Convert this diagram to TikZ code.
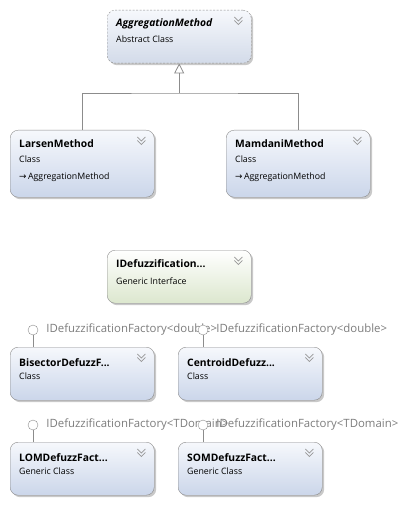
\documentclass[tikz,border=0pt]{standalone}
\usepackage{fontspec}
\setmainfont{Open Sans}
\newfontfamily\arrowfont{DejaVu Sans}
\usepackage{tikz}
\usetikzlibrary{positioning}
\usetikzlibrary{arrows.meta}
\usetikzlibrary{shadows}
\definecolor{umlline}{HTML}{8C8C8C}
\definecolor{classtop}{HTML}{F6F8FC}
\definecolor{classbot}{HTML}{CBD6EA}
\definecolor{abstbot}{HTML}{D3DBE9}
\definecolor{ifacebot}{HTML}{DCE7CE}
\definecolor{labelgray}{HTML}{7C7C7C}
\tikzset{>=latex}
\tikzset{
  umlbox/.style = {rectangle, draw=umlline, rounded corners=8pt, anchor=north west,
    minimum width=144pt, minimum height=53pt, inner sep=0pt,
    top color=classtop, bottom color=classbot,
    drop shadow={shadow xshift=2pt, shadow yshift=-2pt, opacity=0.3, fill=black!70}},
  abstbox/.style = {umlbox, dash pattern=on 2pt off 1.5pt, bottom color=abstbot},
  ifacebox/.style = {umlbox, top color=white, bottom color=ifacebot},
  title/.style = {anchor=base west, inner sep=0pt, font=\fontsize{10.3}{12}\selectfont\bfseries},
  sub/.style = {anchor=base west, inner sep=0pt, font=\fontsize{8.8}{10}\selectfont},
  lolly/.style = {circle, draw=umlline, fill=white, minimum size=10pt, inner sep=0pt},
  ifacelabel/.style = {anchor=west, inner sep=0pt, text=labelgray, font=\fontsize{11.4}{13}\selectfont},
  link/.style = {draw=umlline, line width=0.8pt},
  chev/.style = {draw=umlline!90, line width=0.8pt}
}

\begin{document}
\begin{tikzpicture}[x=1pt, y=-1pt]
\useasboundingbox (0,0) rectangle (417,505);

% class boxes
\node [abstbox] (Agg) at (107,10) {};
\node [umlbox, minimum height=67pt] (Larsen) at (10,130) {};
\node [umlbox, minimum height=67pt] (Mamdani) at (226,130) {};
\node [ifacebox] (IDef) at (107,250) {};
\node [umlbox] (Bisector) at (10,347) {};
\node [umlbox] (Centroid) at (178,347) {};
\node [umlbox] (LOM) at (10,442) {};
\node [umlbox] (SOM) at (178,442) {};

% titles
\node [title, font=\fontsize{10.3}{12}\selectfont\bfseries\itshape] (AggT) at ([shift={(9,17)}]Agg.north west) {AggregationMethod};
\node [sub] (AggS) at ([shift={(9,33)}]Agg.north west) {Abstract Class};
\node [title] (LarsenT) at ([shift={(9,18)}]Larsen.north west) {LarsenMethod};
\node [sub] (LarsenS) at ([shift={(9,32)}]Larsen.north west) {Class};
\node [sub] (LarsenB) at ([shift={(9,49)}]Larsen.north west) {{\arrowfont →}\,AggregationMethod};
\node [title] (MamdaniT) at ([shift={(9,18)}]Mamdani.north west) {MamdaniMethod};
\node [sub] (MamdaniS) at ([shift={(9,32)}]Mamdani.north west) {Class};
\node [sub] (MamdaniB) at ([shift={(9,49)}]Mamdani.north west) {{\arrowfont →}\,AggregationMethod};
\node [title] (IDefT) at ([shift={(9,17)}]IDef.north west) {IDefuzzification...};
\node [sub] (IDefS) at ([shift={(9,34)}]IDef.north west) {Generic Interface};
\node [title] (BisectorT) at ([shift={(9,19)}]Bisector.north west) {BisectorDefuzzF...};
\node [sub] (BisectorS) at ([shift={(9,32)}]Bisector.north west) {Class};
\node [title] (CentroidT) at ([shift={(9,19)}]Centroid.north west) {CentroidDefuzz...};
\node [sub] (CentroidS) at ([shift={(9,32)}]Centroid.north west) {Class};
\node [title] (LOMT) at ([shift={(9,19)}]LOM.north west) {LOMDefuzzFact...};
\node [sub] (LOMS) at ([shift={(9,32)}]LOM.north west) {Generic Class};
\node [title] (SOMT) at ([shift={(9,19)}]SOM.north west) {SOMDefuzzFact...};
\node [sub] (SOMS) at ([shift={(9,32)}]SOM.north west) {Generic Class};

% collapse chevrons
\foreach \b in {Agg, Larsen, Mamdani, IDef, Bisector, Centroid, LOM, SOM} {
  \draw [chev] ([shift={(-17,7)}]\b.north east) -- ++(4,4) -- ++(4,-4);
  \draw [chev] ([shift={(-17,10.5)}]\b.north east) -- ++(4,4) -- ++(4,-4);
}

% inheritance
\coordinate (fork) at (Agg.south |- 0,93);
\draw [link] (Larsen.north) |- (fork) -| (Mamdani.north);
\draw [link, -{Triangle[open, length=10pt, width=10pt]}] (fork) -- (Agg.south);

% lollipops
\node [lolly] (BisectorL) at ([shift={(23,-17)}]Bisector.north west) {};
\draw [link] (BisectorL) -- (BisectorL |- Bisector.north);
\node [ifacelabel] (BisectorLT) at ([xshift=8pt]BisectorL.east) {IDefuzzificationFactory<double>};
\node [lolly] (CentroidL) at ([shift={(25,-17)}]Centroid.north west) {};
\draw [link] (CentroidL) -- (CentroidL |- Centroid.north);
\node [ifacelabel] (CentroidLT) at ([xshift=8pt]CentroidL.east) {IDefuzzificationFactory<double>};
\node [lolly] (LOML) at ([shift={(23,-17)}]LOM.north west) {};
\draw [link] (LOML) -- (LOML |- LOM.north);
\node [ifacelabel] (LOMLT) at ([xshift=8pt]LOML.east) {IDefuzzificationFactory<TDomain>};
\node [lolly] (SOML) at ([shift={(25,-17)}]SOM.north west) {};
\draw [link] (SOML) -- (SOML |- SOM.north);
\node [ifacelabel] (SOMLT) at ([xshift=8pt]SOML.east) {IDefuzzificationFactory<TDomain>};
\end{tikzpicture}
\end{document}
